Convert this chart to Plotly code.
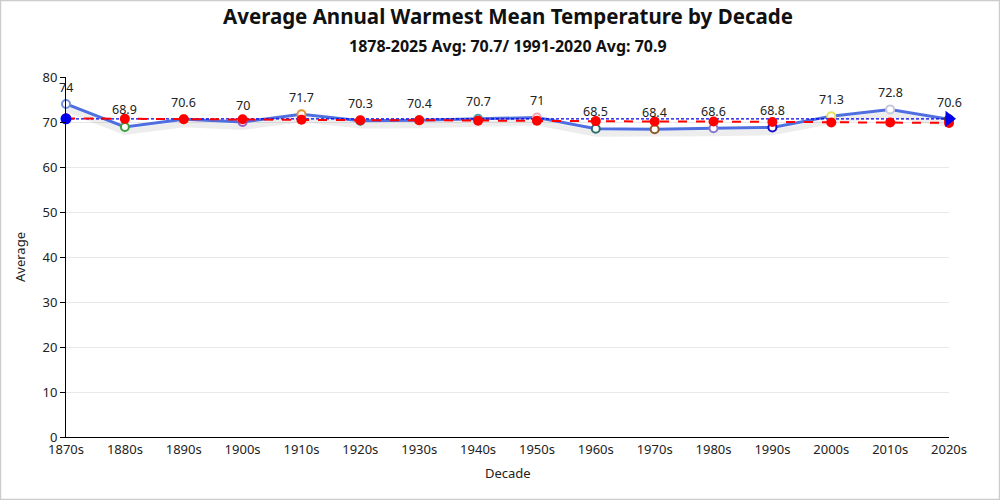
import plotly.graph_objects as go

decades = ["1870s", "1880s", "1890s", "1900s", "1910s", "1920s", "1930s", "1940s",
           "1950s", "1960s", "1970s", "1980s", "1990s", "2000s", "2010s", "2020s"]
averages = [74, 68.9, 70.6, 70, 71.7, 70.3, 70.4, 70.7, 71, 68.5, 68.4, 68.6, 68.8, 71.3, 72.8, 70.6]
point_colors = ["#6f8fdd", "#3aa03a", "#d4a017", "#9a5fc0", "#e8912d", "#2f7f7f", "#c05a5a",
                "#4aa0b0", "#f2a7b5", "#2e6d6d", "#8c5a2b", "#8878cc", "#1010c8", "#e5e55a",
                "#c8c8dc", "#333333"]
trend = [70.8, 70.7, 70.6, 70.6, 70.5, 70.4, 70.4, 70.3, 70.3, 70.2, 70.1, 70.1, 70.0, 69.9, 69.9, 69.8]
overall_avg = 70.7
title_text = "Average Annual Warmest Mean Temperature by Decade"
subtitle_text = "1878-2025 Avg: 70.7/ 1991-2020 Avg: 70.9"

FONT = "Noto Sans"
fig = go.Figure()

# soft shadow under main line
fig.add_trace(go.Scatter(
    x=decades, y=[v - 1.1 for v in averages], mode="lines",
    line=dict(color="rgba(0,0,0,0.07)", width=6), hoverinfo="skip", showlegend=False))

# main line
fig.add_trace(go.Scatter(
    x=decades, y=averages, mode="lines+markers", cliponaxis=False,
    line=dict(color="#4f6fe0", width=3),
    marker=dict(symbol="circle", size=8, color="white",
                line=dict(color=point_colors, width=2)),
    showlegend=False))

# overall average line (dotted blue)
fig.add_trace(go.Scatter(
    x=[decades[0], decades[-1]], y=[overall_avg, overall_avg], mode="lines",
    line=dict(color="#0000ee", width=1.3, dash="3px,2px"), showlegend=False))

# trend line (red dashed with dots)
fig.add_trace(go.Scatter(
    x=decades, y=trend, mode="lines+markers", cliponaxis=False,
    line=dict(color="#ff0000", width=2, dash="dash"),
    marker=dict(symbol="circle", size=10, color="#ff0000"),
    showlegend=False))

# avg line start/end symbols
fig.add_trace(go.Scatter(
    x=[decades[0]], y=[overall_avg], mode="markers", cliponaxis=False,
    marker=dict(symbol="circle", size=11, color="#0000ee"), showlegend=False))
fig.add_trace(go.Scatter(
    x=[decades[-1]], y=[overall_avg], mode="markers", cliponaxis=False,
    marker=dict(symbol="triangle-right", size=14, color="#0000ee"), showlegend=False))

annotations = []
for d, v in zip(decades, averages):
    annotations.append(dict(x=d, y=v, xref="x", yref="y", text=str(v), showarrow=False,
                            yshift=17, font=dict(family=FONT, size=12.5, color="#222")))
annotations += [
    dict(x=0.5, y=1.1694, xref="paper", yref="paper", text="<b>" + title_text + "</b>",
         showarrow=False, font=dict(family=FONT, size=20.5, color="#111"), yanchor="middle"),
    dict(x=0.5, y=1.086, xref="paper", yref="paper", text="<b>" + subtitle_text + "</b>",
         showarrow=False, font=dict(family=FONT, size=16, color="#111"), yanchor="middle"),
    dict(x=0.5, y=-0.0989, xref="paper", yref="paper", text="Decade", showarrow=False,
         font=dict(family=FONT, size=13, color="#222"), yanchor="middle"),
    dict(x=-0.0521, y=0.5, xref="paper", yref="paper", text="Average", showarrow=False,
         textangle=-90, font=dict(family=FONT, size=13, color="#222"), xanchor="center"),
]

fig.update_layout(
    width=1000, height=500,
    margin=dict(l=66, r=51, t=77, b=63),
    paper_bgcolor="white", plot_bgcolor="white",
    annotations=annotations,
    shapes=[dict(type="rect", xref="paper", yref="paper", x0=-0.0742, x1=1.0572,
                 y0=-0.1736, y1=1.2125, line=dict(color="#cccccc", width=1.5))],
    font=dict(family=FONT, size=12, color="#222"),
)
fig.update_xaxes(type="category", categoryorder="array", categoryarray=decades,
                 range=[0, len(decades) - 1], showline=True, linecolor="#000", linewidth=1,
                 showgrid=False, ticks="", tickfont=dict(family=FONT, size=13, color="#222"),
                 zeroline=False)
fig.update_yaxes(range=[0, 80], dtick=10, showline=True, linecolor="#000", linewidth=1,
                 ticks="outside", ticklen=5, tickcolor="#000", showgrid=True,
                 gridcolor="#e8e8e8", zeroline=False,
                 tickfont=dict(family=FONT, size=13, color="#222"))

fig.write_html("out.html", config={"displayModeBar": False},
               post_script="document.body.style.margin='0px';")
